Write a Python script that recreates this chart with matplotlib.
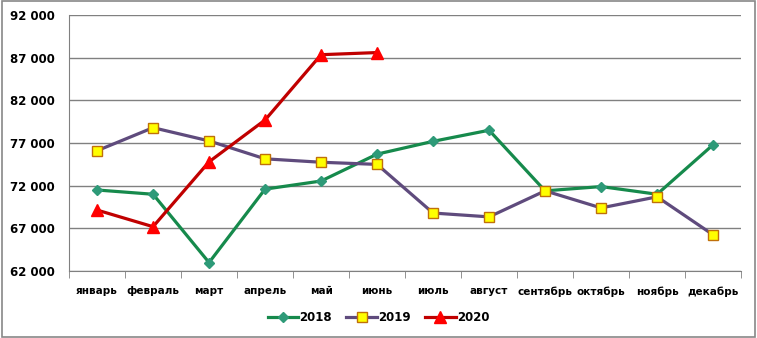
import matplotlib.pyplot as plt
import numpy as np
from matplotlib.ticker import FuncFormatter

months = ["январь", "февраль", "март", "апрель", "май", "июнь", "июль",
          "август", "сентябрь", "октябрь", "ноябрь", "декабрь"]
y2018 = [71500, 71000, 63000, 71600, 72550, 75700, 77200, 78500, 71400, 71900, 71000, 76800]
y2019 = [76100, 78800, 77250, 75150, 74750, 74500, 68800, 68350, 71400, 69400, 70700, 66250]
y2020 = [69150, 67200, 74800, 79700, 87350, 87600]

plt.rcParams['font.family'] = ['DejaVu Sans']
fig = plt.figure(figsize=(7.57, 3.38), dpi=100)
ax = fig.add_axes([0.0912, 0.198, 0.8878, 0.7576])

x = np.arange(len(months))
ax.plot(x, y2018, color="#168A4C", lw=2.3, marker="D", ms=5.5,
        mfc="#2E9A78", mec="#2E9A78", label="2018", zorder=3)
ax.plot(x, y2019, color="#5F4B7D", lw=2.3, marker="s", ms=6.5,
        mfc="#FFFF00", mec="#C0700A", mew=1, label="2019", zorder=3)
ax.plot(x[:len(y2020)], y2020, color="#C00000", lw=2.3, marker="^", ms=8,
        mfc="#FF0000", mec="#FF0000", label="2020", zorder=4)

ax.set_xlim(-0.5, 11.5)
ax.set_ylim(62000, 92000)
ax.set_yticks(range(62000, 92001, 5000))
ax.yaxis.set_major_formatter(FuncFormatter(lambda v, p: f"{int(v):,}".replace(",", " ")))
ax.set_xticks(x)
ax.set_xticklabels(months)
ax.set_xticks(np.arange(-0.5, 12, 1), minor=True)
ax.tick_params(axis='x', which='major', length=0, pad=11)
ax.tick_params(axis='x', which='minor', length=5, color="#808080", direction='out')
ax.tick_params(axis='y', length=0, pad=10)
for lab in ax.get_xticklabels():
    lab.set_fontweight('bold')
    lab.set_fontsize(7.5)
for lab in ax.get_yticklabels():
    lab.set_fontweight('bold')
    lab.set_fontsize(8.5)
ax.grid(axis='y', color="#808080", lw=1)
ax.set_axisbelow(True)
for s in ['top', 'right']:
    ax.spines[s].set_visible(False)
ax.spines['left'].set_color("#808080")
ax.spines['bottom'].set_color("#808080")

leg = fig.legend(loc='center', bbox_to_anchor=(0.5, 0.06), ncol=3, frameon=False,
                 prop={'weight': 'bold', 'size': 8.5}, handlelength=2.6,
                 handletextpad=0.1, columnspacing=1.2)

fig.patches.append(plt.Rectangle((0.002, 0.003), 0.995, 0.993, transform=fig.transFigure,
                                 fill=False, ec="#888888", lw=1.2))
fig.savefig("out.png", dpi=100)
